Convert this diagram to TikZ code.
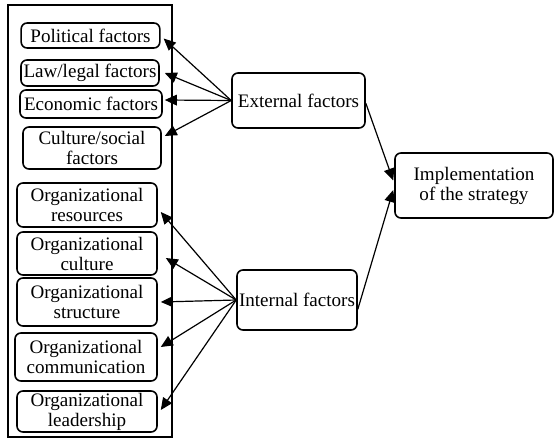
\documentclass[tikz,border=0pt]{standalone}
\usepackage{fontspec}
\setmainfont{Liberation Serif}
\usepackage{tikz}
\usetikzlibrary{arrows.meta,calc}
\tikzset{
         factorbox/.style=
          {
           draw,
           line width=1.2pt,
           rounded corners=4.5pt,
           align=center,
           inner sep=1pt
          },
         link/.style=
          {
           line width=0.9pt,
           -{Triangle[length=9pt,width=8pt]}
          }
        }

\begin{document}
\begin{tikzpicture}[x=0.75pt,y=-0.75pt,font=\fontsize{14.3}{15}\selectfont]

\useasboundingbox(0,0)rectangle(554,447);
\draw[line width=1.2pt](8,5)rectangle(172,437);

% external factors
\node[factorbox,minimum width=104pt,minimum height=18.75pt](pol)at(90.5,35.5){Political factors};
\node[factorbox,minimum width=103.5pt,minimum height=19.5pt](law)at(90,73){Law/legal factors};
\node[factorbox,minimum width=106.5pt,minimum height=21pt](eco)at(91,104){Economic factors};
\node[factorbox,minimum width=103.5pt,minimum height=31.5pt](cul)at(92,148){Culture/social\\factors};

% internal factors
\node[factorbox,minimum width=105pt,minimum height=33pt](res)at(87,205){Organizational\\resources};
\node[factorbox,minimum width=105pt,minimum height=32.25pt](ocu)at(87,253.5){Organizational\\culture};
\node[factorbox,minimum width=105pt,minimum height=36pt](str)at(87,302){Organizational\\structure};
\node[factorbox,minimum width=106.5pt,minimum height=36pt](com)at(86,357){Organizational\\communication};
\node[factorbox,minimum width=105pt,minimum height=30.75pt](lea)at(87,411.5){Organizational\\leadership};

\node[factorbox,minimum width=99.75pt,minimum height=41.25pt](ext)at(298.5,100.5){External factors};
\node[factorbox,minimum width=90pt,minimum height=45pt](int)at(297,300){Internal factors};
\node[factorbox,minimum width=118.5pt,minimum height=48.75pt](imp)at(474,185.5){Implementation\\of the strategy};

\draw[link](ext.west)--([shift={(3,3)}]pol.east);
\draw[link](ext.west)--([shift={(5,0)}]law.east);
\draw[link](ext.west)--([shift={(2,-4)}]eco.east);
\draw[link](ext.west)--([shift={(3,-12)}]cul.east);

\draw[link](int.west)--([shift={(3,7)}]res.east);
\draw[link](int.west)--([shift={(8,4.5)}]ocu.east);
\draw[link](int.west)--([shift={(3,0)}]str.east);
\draw[link](int.west)--([shift={(3,-10)}]com.east);
\draw[link](int.west)--([shift={(3,-1.5)}]lea.east);

\draw[link]([yshift=-2]ext.east)--([shift={(-1,-5)}]imp.west);
\draw[link]([yshift=-7]int.east)--([shift={(-1,4.5)}]imp.west);

\end{tikzpicture}
\end{document}
